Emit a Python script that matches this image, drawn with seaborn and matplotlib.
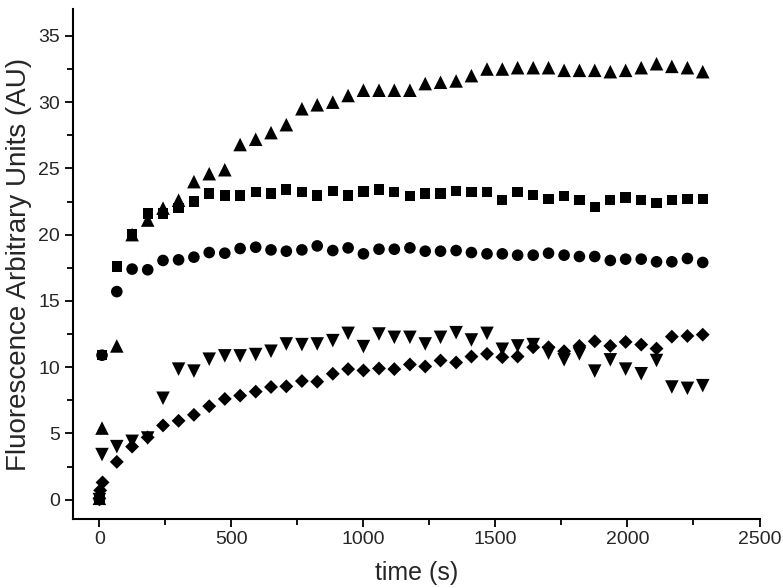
import matplotlib
matplotlib.use("Agg")
import matplotlib.pyplot as plt
import pandas as pd
import seaborn as sns
from matplotlib.ticker import MultipleLocator

# ---------------- data ----------------
time_s = [66, 124, 183, 241, 300, 358, 416, 475, 533, 592, 650, 708,
          767, 825, 884, 942, 1000, 1059, 1117, 1176, 1234, 1292, 1351, 1409, 1468,
          1526, 1584, 1643, 1701, 1760, 1818, 1876, 1935, 1993, 2052, 2110, 2168,
          2227, 2285]

early_t = [0, 10]
diamond_early_t = [0, 3, 12]

square_early = [0.0, 10.9]
square = [17.6, 20.0, 21.6, 21.6, 22.0, 22.5, 23.1, 22.95, 22.95, 23.2, 23.1, 23.4,
          23.2, 22.95, 23.3, 22.95, 23.25, 23.4, 23.2, 22.9, 23.1, 23.1, 23.3, 23.2, 23.2,
          22.6, 23.2, 23.0, 22.7, 22.9, 22.6, 22.1, 22.6, 22.8, 22.6, 22.4, 22.6, 22.7, 22.7]

circle_early = [0.0, 10.9]
circle = [15.7, 17.4, 17.35, 18.05, 18.1, 18.3, 18.65, 18.6, 18.95, 19.05, 18.85, 18.75,
          18.85, 19.15, 18.8, 19.0, 18.55, 18.9, 18.9, 19.0, 18.75, 18.75, 18.8, 18.65, 18.55,
          18.55, 18.45, 18.45, 18.6, 18.45, 18.35, 18.35, 18.05, 18.15, 18.15, 17.95, 17.95,
          18.2, 17.9]

tri_up_early = [0.1, 5.4]
tri_up = [11.6, 20.0, 21.1, 22.0, 22.6, 24.0, 24.6, 24.9, 26.8, 27.2, 27.7, 28.3,
          29.5, 29.8, 30.0, 30.5, 30.9, 30.9, 30.9, 30.9, 31.4, 31.5, 31.6, 32.0, 32.5,
          32.5, 32.6, 32.6, 32.6, 32.4, 32.4, 32.4, 32.3, 32.4, 32.6, 32.9, 32.7, 32.6, 32.3]

tri_down_early = [0.0, 3.4]
tri_down = [4.0, 4.4, 4.65, 7.65, 9.85, 9.7, 10.6, 10.85, 10.85, 10.95, 11.2, 11.75,
            11.7, 11.75, 12.0, 12.55, 11.55, 12.5, 12.25, 12.25, 11.75, 12.25, 12.6, 12.05, 12.55,
            11.35, 11.6, 11.7, 11.05, 10.55, 11.0, 9.7, 10.55, 9.85, 9.5, 10.5, 8.5, 8.4, 8.6]

diamond_early = [0.1, 0.7, 1.3]
diamond = [2.85, 4.0, 4.7, 5.6, 5.95, 6.4, 7.05, 7.6, 7.85, 8.15, 8.5, 8.55,
           8.95, 8.9, 9.5, 9.85, 9.75, 9.9, 9.85, 10.2, 10.05, 10.5, 10.35, 10.8, 11.0,
           10.75, 10.8, 11.5, 11.5, 11.2, 11.6, 11.95, 11.6, 11.9, 11.7, 11.4, 12.3, 12.35, 12.45]

x_ticks = [0, 500, 1000, 1500, 2000, 2500]
y_ticks = [0, 5, 10, 15, 20, 25, 30, 35]

# ---------------- long-form table ----------------
frames = []
for name, t0, v0, v in [("square", early_t, square_early, square),
                        ("circle", early_t, circle_early, circle),
                        ("tri_up", early_t, tri_up_early, tri_up),
                        ("tri_down", early_t, tri_down_early, tri_down),
                        ("diamond", diamond_early_t, diamond_early, diamond)]:
    frames.append(pd.DataFrame({"time": list(t0) + time_s,
                                "value": list(v0) + v,
                                "series": name}))
df = pd.concat(frames, ignore_index=True)

# ---------------- style ----------------
sns.set_style("ticks")
plt.rcParams["font.family"] = ["Liberation Sans", "DejaVu Sans"]

fig = plt.figure(figsize=(7.83, 5.88), dpi=100)
ax = fig.add_axes([0.0932, 0.1165, 0.8768, 0.8675])

markers = {"square": "s", "circle": "o", "tri_up": "^", "tri_down": "v", "diamond": "D"}
sizes = {"square": 55, "circle": 70, "tri_up": 95, "tri_down": 95, "diamond": 50}

sns.scatterplot(data=df, x="time", y="value", style="series", markers=markers,
                size="series", sizes=sizes, color="black", linewidth=0,
                legend=False, ax=ax, zorder=3)

ax.set_xlim(-100, 2500)
ax.set_ylim(-1.5, 37)
ax.set_xticks(x_ticks)
ax.set_yticks(y_ticks)
ax.xaxis.set_minor_locator(MultipleLocator(250))
ax.yaxis.set_minor_locator(MultipleLocator(2.5))
ax.tick_params(axis="x", which="major", pad=2)
ax.tick_params(which="major", direction="out", length=6, width=1.3, labelsize=14,
               color="black")
ax.tick_params(which="minor", direction="out", length=4, width=1.3, color="black")

for side in ["top", "right"]:
    ax.spines[side].set_visible(False)
for side in ["left", "bottom"]:
    ax.spines[side].set_linewidth(1.5)
    ax.spines[side].set_color("black")

ax.set_xlabel("time (s)", fontsize=18, labelpad=10)
ax.set_ylabel("Fluorescence Arbitrary Units (AU)", fontsize=20, labelpad=4)

fig.savefig("out.png", dpi=100)
